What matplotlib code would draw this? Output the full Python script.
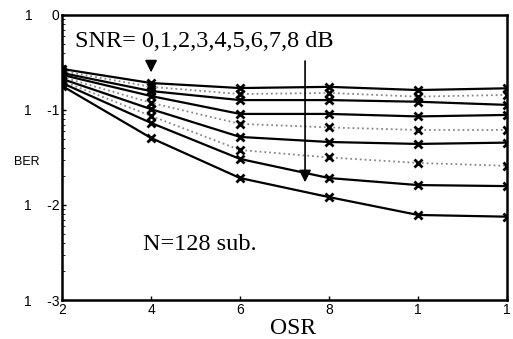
import matplotlib
matplotlib.use("Agg")
import matplotlib.pyplot as plt

# oversampling ratio
osr = [2, 4, 6, 8, 10, 12]

# BER curves, one per SNR value (dB)
snr = [0, 1, 2, 3, 4, 5, 6, 7, 8]
ber = [
    [0.270, 0.192, 0.170, 0.175, 0.162, 0.169],
    [0.257, 0.175, 0.147, 0.151, 0.138, 0.144],
    [0.245, 0.158, 0.127, 0.127, 0.122, 0.113],
    [0.234, 0.140, 0.0908, 0.0908, 0.0855, 0.0886],
    [0.222, 0.119, 0.0713, 0.0655, 0.0616, 0.0616],
    [0.212, 0.102, 0.052, 0.046, 0.0439, 0.0453],
    [0.202, 0.0865, 0.0379, 0.0316, 0.0277, 0.0258],
    [0.192, 0.073, 0.0305, 0.0192, 0.0162, 0.0158],
    [0.179, 0.0507, 0.0192, 0.0121, 0.00785, 0.00753],
]
# curves printed faint/dotted in the scan
dotted = [1, 4, 6]

xticks = [2, 4, 6, 8, 10, 12]
xticklabels = ['2', '4', '6', '8', '1', '1']
yticks = [1e-3, 1e-2, 1e-1, 1e0]
yticklabels = ['1    -3', '1    -2', '1    -1', '1     0']

fig = plt.figure(figsize=(5.13, 3.39), dpi=100)
ax = fig.add_axes([0.121, 0.115, 0.8675, 0.841])

for i, s in enumerate(snr):
    if i in dotted:
        ax.plot(osr, ber[i], color='#888888', linestyle=':', linewidth=1.3,
                marker='x', markersize=6, markeredgewidth=2, markeredgecolor='black')
    else:
        ax.plot(osr, ber[i], color='black', linestyle='-', linewidth=1.6,
                marker='x', markersize=6, markeredgewidth=2)

ax.set_yscale('log')
ax.set_xlim(2, 12)
ax.set_ylim(1e-3, 1e0)
ax.set_xticks(xticks)
ax.set_xticklabels(xticklabels, family='Liberation Sans', fontsize=10)
ax.set_yticks(yticks)
ax.set_yticklabels(yticklabels, family='Liberation Sans', fontsize=10)
ax.tick_params(direction='in', length=3, width=1, pad=2)
ax.tick_params(which='minor', direction='in', length=2)
for sp in ax.spines.values():
    sp.set_linewidth(1.8)

# axis labels
fig.text(0.571, 0.03, 'OSR', family='Liberation Serif', fontsize=17,
         ha='center', va='center')
fig.text(0.053, 0.522, 'BER', family='Liberation Sans', fontsize=9,
         ha='center', va='center')

# annotations
ax.text(2.29, 0.52, 'SNR= 0,1,2,3,4,5,6,7,8 dB', family='Liberation Serif',
        fontsize=17.5, va='center', ha='left')
ax.annotate('', xy=(4, 0.232), xytext=(4, 0.345),
            arrowprops=dict(arrowstyle='-|>', color='black', lw=1.2,
                            mutation_scale=18))
ax.annotate('', xy=(7.46, 0.0162), xytext=(7.46, 0.35),
            arrowprops=dict(arrowstyle='-|>', color='black', lw=1.2,
                            mutation_scale=18))
ax.text(3.82, 0.0038, 'N=128 sub.', family='Liberation Serif', fontsize=17.5,
        va='center', ha='left')

fig.savefig('out.png', dpi=100)
